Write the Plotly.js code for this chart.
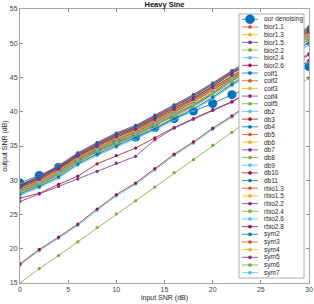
<!DOCTYPE html>
<html><head><meta charset="utf-8">
<script src="https://cdn.plot.ly/plotly-3.0.1.min.js"></script>
<style>html,body{margin:0;padding:0;background:#fff}#chart{width:314px;height:304px}</style>
</head><body><div id="chart"></div>
<script>
const inputSNR = [0,2,4,6,8,10,12,14,16,18,20,22,24,26,28,30];
const seriesNames = ["our denoising","bior1.1","bior1.3","bior1.5","bior2.2","bior2.4","bior2.6","coif1","coif2","coif3","coif4","coif5","db2","db3","db4","db5","db6","db7","db8","db9","db10","db11","rbio1.3","rbio1.5","rbio2.2","rbio2.4","rbio2.6","rbio2.8","sym2","sym3","sym4","sym5","sym6","sym7"];
const ourDenoising = [29.6,30.7,31.9,33.1,34.3,35.6,36.3,37.7,39.0,40.1,41.2,42.5,43.6,44.6,45.6,46.6];
const bior11 = [29.2,30.4,32.0,33.8,35.3,36.7,37.8,39.3,40.8,42.3,44.0,45.8,47.4,49.0,50.6,52.1];
const bior13 = [29.4,30.6,32.2,34.0,35.5,36.9,38.0,39.5,41.0,42.5,44.2,46.0,47.6,49.2,50.8,52.3];
const bior15 = [28.8,29.9,31.4,33.3,34.7,36.1,37.2,38.6,40.1,41.6,43.3,45.1,46.8,48.3,49.8,51.3];
const bior22 = [28.9,30.1,31.6,33.5,34.9,36.3,37.4,38.8,40.3,41.8,43.5,45.3,46.9,48.5,50.1,51.6];
const bior24 = [28.0,29.1,30.5,32.4,33.8,35.0,36.2,37.5,39.0,40.4,42.1,44.0,45.7,47.2,48.6,50.0];
const bior26 = [27.4,28.1,29.4,30.6,32.4,33.6,34.7,36.2,37.7,39.0,40.3,41.5,43.0,44.8,46.6,48.3];
const coif1 = [28.6,29.8,31.3,33.1,34.6,35.9,37.0,38.4,39.9,41.4,43.1,44.9,46.6,48.1,49.6,51.1];
const coif2 = [29.1,30.3,31.8,33.6,35.1,36.5,37.6,39.1,40.6,42.0,43.7,45.6,47.2,48.8,50.3,51.9];
const coif3 = [28.9,30.0,31.6,33.4,34.9,36.3,37.4,38.9,40.4,41.8,43.5,45.4,47.0,48.6,50.1,51.7];
const coif4 = [29.2,30.4,31.9,33.8,35.3,36.7,37.8,39.3,40.8,42.3,44.0,45.8,47.4,49.0,50.6,52.0];
const coif5 = [29.0,30.3,31.8,33.6,35.1,36.5,37.6,39.1,40.6,42.1,43.8,45.6,47.2,48.8,50.4,51.9];
const db2 = [27.8,28.9,30.3,32.2,33.6,34.8,36.0,37.3,38.8,40.2,41.9,43.8,45.5,47.0,48.4,49.7];
const db3 = [28.4,29.6,31.1,32.9,34.4,35.6,36.8,38.2,39.7,41.1,42.8,44.7,46.3,47.9,49.4,50.8];
const db4 = [28.3,29.4,30.9,32.7,34.2,35.4,36.6,38.0,39.5,40.9,42.6,44.5,46.1,47.7,49.1,50.5];
const db5 = [28.8,29.9,31.5,33.3,34.7,36.1,37.2,38.6,40.1,41.6,43.3,45.1,46.7,48.3,49.8,51.4];
const db6 = [28.6,29.8,31.3,33.1,34.6,35.9,37.0,38.4,39.9,41.4,43.1,44.9,46.5,48.1,49.6,51.0];
const db7 = [29.3,30.6,32.1,34.0,35.5,36.9,38.0,39.5,41.0,42.5,44.2,46.0,47.6,49.2,50.8,52.4];
const db8 = [28.4,29.6,31.1,32.9,34.4,35.7,36.8,38.2,39.7,41.1,42.8,44.7,46.3,47.9,49.3,50.8];
const db9 = [28.1,29.2,30.7,32.6,34.0,35.2,36.4,37.7,39.2,40.7,42.4,44.2,45.9,47.4,48.9,50.2];
const db10 = [29.1,30.3,31.8,33.6,35.1,36.5,37.6,39.1,40.6,42.0,43.7,45.6,47.2,48.8,50.3,51.8];
const db11 = [29.2,30.4,32.0,33.8,35.3,36.7,37.8,39.3,40.8,42.3,44.0,45.8,47.4,49.0,50.6,52.2];
const rbio13 = [28.3,29.4,30.9,32.7,34.2,35.4,36.6,38.0,39.5,40.9,42.6,44.5,46.1,47.7,49.1,50.5];
const rbio15 = [28.1,29.2,30.7,32.6,34.0,35.2,36.4,37.7,39.2,40.7,42.4,44.2,45.9,47.4,48.9,50.2];
const rbio22 = [26.9,28.0,29.1,30.2,31.3,32.5,33.5,35.9,37.6,38.9,40.2,41.4,43.1,44.9,46.7,48.5];
const rbio24 = [15.0,17.1,19.0,21.0,23.1,25.1,27.0,29.0,31.1,33.0,35.1,37.0,39.0,41.0,43.0,44.9];
const rbio26 = [17.6,19.7,21.5,23.4,25.6,27.7,29.4,31.5,33.6,35.4,37.4,39.2,41.2,43.2,45.2,47.3];
const rbio28 = [17.8,19.9,21.7,23.6,25.8,27.9,29.6,31.7,33.8,35.6,37.6,39.4,41.4,43.4,45.4,47.5];
const sym2 = [28.0,29.1,30.5,32.4,33.8,35.0,36.2,37.5,39.0,40.4,42.1,44.0,45.7,47.2,48.6,50.0];
const sym3 = [28.6,29.8,31.3,33.1,34.6,35.9,37.0,38.4,39.9,41.4,43.1,44.9,46.6,48.1,49.6,51.1];
const sym4 = [28.8,29.9,31.4,33.3,34.7,36.1,37.2,38.6,40.1,41.6,43.3,45.1,46.8,48.3,49.8,51.3];
const sym5 = [28.9,30.1,31.6,33.5,34.9,36.3,37.4,38.8,40.3,41.8,43.5,45.3,46.9,48.5,50.1,51.6];
const sym6 = [28.3,29.4,30.9,32.7,34.2,35.4,36.6,38.0,39.5,40.9,42.6,44.5,46.1,47.7,49.1,50.5];
const sym7 = [28.4,29.6,31.1,32.9,34.4,35.6,36.8,38.2,39.7,41.1,42.8,44.7,46.3,47.9,49.4,50.8];
const xTicks = [0,5,10,15,20,25,30];
const yTicks = [15,20,25,30,35,40,45,50,55];

const seriesValues = [ourDenoising,bior11,bior13,bior15,bior22,bior24,bior26,coif1,coif2,coif3,coif4,coif5,db2,db3,db4,db5,db6,db7,db8,db9,db10,db11,rbio13,rbio15,rbio22,rbio24,rbio26,rbio28,sym2,sym3,sym4,sym5,sym6,sym7];
const palette = ["#0072BD","#D95319","#EDB120","#7E2F8E","#77AC30","#4DBEEE","#A2142F"];

const W=314,H=304, L=20,R=5,T=9,B=21;
const pw=W-L-R, ph=H-T-B;
const px=(x)=>(x-L)/pw, py=(y)=>(H-B-y)/ph;

const traces = seriesNames.map((n,i)=>({
  x: inputSNR, y: seriesValues[i], name:n, type:'scatter', mode:'lines+markers',
  line:{color:palette[i%7], width: 0.8},
  marker:{color:palette[i%7], size: i===0?9:3.2, symbol:'circle'},
  showlegend:false, hoverinfo:'skip'
}));

// custom compact legend
const shapes=[], annotations=[];
const lx0=239, lx1=304, ly0=14, ly1=278;
shapes.push({type:'rect', xref:'paper', yref:'paper', x0:px(lx0), x1:px(lx1), y0:py(ly1), y1:py(ly0),
  fillcolor:'#ffffff', line:{color:'#9a9a9a', width:0.8}, layer:'above'});
const rowTop=19.3, pitch=(272.7-19.3)/33;
seriesNames.forEach((n,i)=>{
  const yy=rowTop+i*pitch;
  const c=palette[i%7];
  shapes.push({type:'line', xref:'paper', yref:'paper', x0:px(242), x1:px(258), y0:py(yy), y1:py(yy),
    line:{color:c, width:0.8}, layer:'above'});
  const r = i===0?4.5:1.6;
  shapes.push({type:'circle', xref:'paper', yref:'paper', xsizemode:'pixel', ysizemode:'pixel',
    xanchor:px(250), yanchor:py(yy), x0:-r, x1:r, y0:-r, y1:r,
    fillcolor:c, line:{color:c, width:0.5}, layer:'above'});
  annotations.push({xref:'paper', yref:'paper', x:px(262), y:py(yy), xanchor:'left', yanchor:'middle',
    text:n, showarrow:false, font:{size:6.5, color:'#262626', family:'Liberation Sans, Arial, sans-serif'}});
});

const axisCommon = {showline:true, mirror:'ticks', linecolor:'#a8a8a8', linewidth:1, ticks:'inside', ticklen:3,
  tickcolor:'#555555', tickwidth:0.7, showgrid:false, zeroline:false,
  tickfont:{size:7, color:'#404040', family:'Liberation Sans, Arial, sans-serif'}};

const layout = {
  width:W, height:H, margin:{l:L,r:R,t:T,b:B,pad:0},
  paper_bgcolor:'#ffffff', plot_bgcolor:'#ffffff',
  font:{family:'Liberation Sans, Arial, sans-serif', color:'#262626'},
  title:{text:'<b>Heavy Sine</b>', font:{size:7.5, color:'#111111'}, x:0.5, xref:'paper', y:1-4/H, yref:'container', yanchor:'middle'},
  xaxis: Object.assign({}, axisCommon, {range:[0,30], tickvals:xTicks, ticktext:xTicks.map(String),
    title:{text:'input SNR (dB)', font:{size:7, color:'#262626'}, standoff:2}}),
  yaxis: Object.assign({}, axisCommon, {range:[15,55], tickvals:yTicks, ticktext:yTicks.map(String),
    title:{text:'output SNR (dB)', font:{size:7, color:'#262626'}, standoff:1}}),
  shapes, annotations, showlegend:false
};
Plotly.newPlot('chart', traces, layout, {staticPlot:true, displayModeBar:false});
</script></body></html>
